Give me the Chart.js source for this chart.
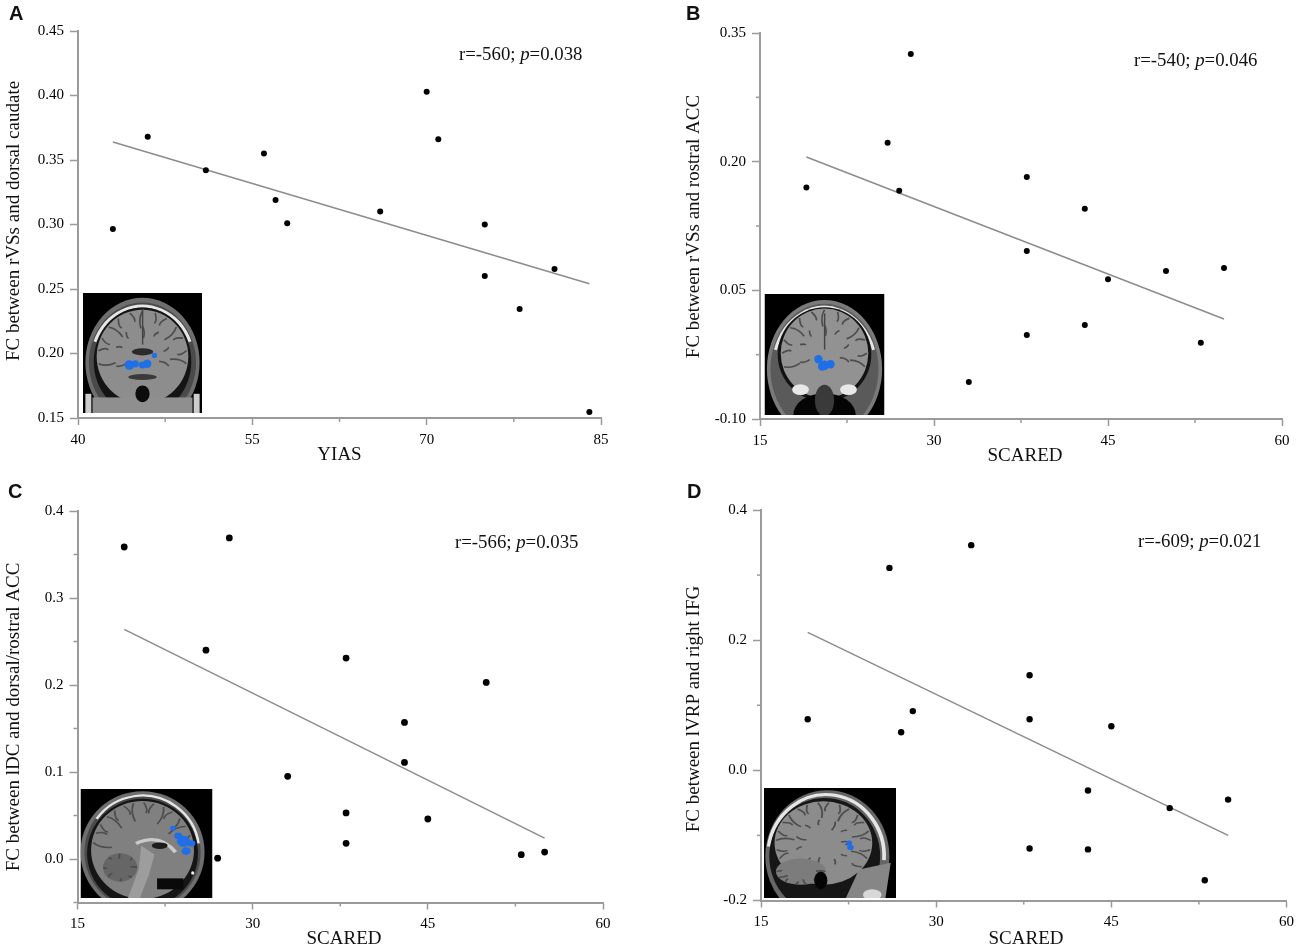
<!DOCTYPE html>
<html>
<head>
<meta charset="utf-8">
<title>FC correlations</title>
<script src="https://cdn.jsdelivr.net/npm/chart.js@4"></script>
<style>
html, body { margin: 0; padding: 0; background: #fff; overflow: hidden; }
#page { position: relative; width: 1300px; height: 950px; }
.panel { position: absolute; }
.letter { position: absolute; font: bold 20px "Liberation Sans", sans-serif; color: #111; line-height: 20px; }
.stat { position: absolute; font: 18.8px "Liberation Serif", serif; color: #111; line-height: 22px; white-space: nowrap; }
</style>
</head>
<body>
<div id="page"></div>
<script>
// panel A
const aX = [43, 46, 51, 56, 57, 58, 66, 70, 71, 75, 75, 78, 81, 84];
const aY = [0.2965, 0.368, 0.342, 0.355, 0.319, 0.301, 0.310, 0.403, 0.366, 0.300, 0.260, 0.2345, 0.2655, 0.1547];
const aFitX = [43, 84];
const aFitY = [0.364, 0.254];
const aXTicks = [40, 55, 70, 85];
const aXMinor = [47.5, 62.5, 77.5];
const aYTicks = [0.15, 0.20, 0.25, 0.30, 0.35, 0.40, 0.45];
const aYMinor = [];

// panel B
const bX = [19, 26, 27, 28, 33, 38, 38, 38, 43, 43, 45, 50, 53, 55];
const bY = [0.170, 0.222, 0.166, 0.3255, -0.057, 0.182, 0.096, -0.002, 0.145, 0.0096, 0.063, 0.0725, -0.011, 0.076];
const bFitX = [19, 55];
const bFitY = [0.2055, 0.0166];
const bXTicks = [15, 30, 45, 60];
const bXMinor = [22.5, 37.5, 52.5];
const bYTicks = [-0.10, 0.05, 0.20, 0.35];
const bYMinor = [-0.025, 0.125, 0.275];

// panel C
const cX = [19, 26, 27, 28, 33, 38, 38, 38, 43, 43, 45, 50, 53, 55];
const cY = [0.3586, 0.240, 0.001, 0.369, 0.095, 0.231, 0.053, 0.018, 0.157, 0.111, 0.046, 0.203, 0.005, 0.008];
const cFitX = [19, 55];
const cFitY = [0.264, 0.024];
const cXTicks = [15, 30, 45, 60];
const cXMinor = [22.5, 37.5, 52.5];
const cYTicks = [0.0, 0.1, 0.2, 0.3, 0.4];
const cYMinor = [-0.05, 0.05, 0.15, 0.25, 0.35];

// panel D
const dX = [19, 26, 27, 28, 33, 38, 38, 38, 43, 43, 45, 50, 53, 55];
const dY = [0.0785, 0.311, 0.0585, 0.091, 0.346, 0.146, 0.0785, -0.12, -0.031, -0.1215, 0.0677, -0.058, -0.169, -0.045];
const dFitX = [19, 55];
const dFitY = [0.212, -0.1];
const dXTicks = [15, 30, 45, 60];
const dXMinor = [22.5, 37.5, 52.5];
const dYTicks = [-0.2, 0.0, 0.2, 0.4];
const dYMinor = [-0.1, 0.1, 0.3];

const AXIS_GREY = '#9a9a9a';
const SERIF = '"Liberation Serif", serif';

const panels = [
  { letter: 'A', letterX: 9, letterY: 3, stat: 'r=-560; ', pval: '=0.038', statX: 459, statY: 43,
    x: aX, y: aY, fitX: aFitX, fitY: aFitY, xTicks: aXTicks, xMinor: aXMinor, yTicks: aYTicks, yMinor: aYMinor,
    xMin: 40, xMax: 85, yMin: 0.15, yMax: 0.45, dec: 2, xTitle: 'YIAS', yTitle: 'FC between rVSs and dorsal caudate',
    left: 0, top: 0, w: 640, h: 470, axisX: 78, rightX: 601, topY: 31, axisY: 418, dot: 3,
    xTitleX: 339.5, xTitleY: 455, yTitleX: 14.5, yTitleY: 221,
    inset: { x: 83, y: 293, w: 119, h: 120, kind: 'coronal', blue: [[.39,.6,.04],[.44,.59,.03],[.5,.6,.03],[.54,.59,.035],[.6,.52,.022]] } },
  { letter: 'B', letterX: 686, letterY: 3, stat: 'r=-540; ', pval: '=0.046', statX: 1134, statY: 49,
    x: bX, y: bY, fitX: bFitX, fitY: bFitY, xTicks: bXTicks, xMinor: bXMinor, yTicks: bYTicks, yMinor: bYMinor,
    xMin: 15, xMax: 60, yMin: -0.10, yMax: 0.35, dec: 2, xTitle: 'SCARED', yTitle: 'FC between rVSs and rostral ACC',
    left: 680, top: 0, w: 620, h: 470, axisX: 760, rightX: 1282, topY: 33, axisY: 419, dot: 3,
    xTitleX: 1025, xTitleY: 456, yTitleX: 694.5, yTitleY: 226.5,
    inset: { x: 764.5, y: 294, w: 120, h: 121, kind: 'coronal2', blue: [[.45,.54,.035],[.5,.59,.04],[.55,.58,.035],[.48,.6,.035]] } },
  { letter: 'C', letterX: 8, letterY: 481, stat: 'r=-566; ', pval: '=0.035', statX: 455, statY: 531,
    x: cX, y: cY, fitX: cFitX, fitY: cFitY, xTicks: cXTicks, xMinor: cXMinor, yTicks: cYTicks, yMinor: cYMinor,
    xMin: 15, xMax: 60, yMin: -0.05, yMax: 0.4, dec: 1, xTitle: 'SCARED', yTitle: 'FC between lDC and dorsal/rostral ACC',
    left: 0, top: 480, w: 640, h: 470, axisX: 77.5, rightX: 603, topY: 511, axisY: 902.5, dot: 3.4,
    xTitleX: 344, xTitleY: 939, yTitleX: 14.5, yTitleY: 717,
    inset: { x: 80.5, y: 789, w: 132, h: 109, kind: 'medial', blue: [[.7,.36,.022],[.74,.43,.03],[.78,.48,.05],[.84,.5,.03],[.8,.57,.035]] } },
  { letter: 'D', letterX: 687, letterY: 481, stat: 'r=-609; ', pval: '=0.021', statX: 1138, statY: 530,
    x: dX, y: dY, fitX: dFitX, fitY: dFitY, xTicks: dXTicks, xMinor: dXMinor, yTicks: dYTicks, yMinor: dYMinor,
    xMin: 15, xMax: 60, yMin: -0.2, yMax: 0.4, dec: 1, xTitle: 'SCARED', yTitle: 'FC between lVRP and right IFG',
    left: 680, top: 480, w: 620, h: 470, axisX: 761, rightX: 1287, topY: 510, axisY: 900.5, dot: 3.2,
    xTitleX: 1026, xTitleY: 939, yTitleX: 694.5, yTitleY: 709,
    inset: { x: 764, y: 788, w: 132, h: 110, kind: 'lateral', blue: [[.645,.5,.022],[.655,.54,.025]] } }
];

function oval(c, x, y, rx, ry, fill) {
  c.fillStyle = fill;
  c.beginPath();
  c.ellipse(x, y, rx, ry, 0, 0, Math.PI * 2);
  c.fill();
}

function brightArc(c, x, y, rx, ry, from, to, width) {
  c.strokeStyle = '#e6e6e6';
  c.lineWidth = width;
  c.beginPath();
  c.ellipse(x, y, rx, ry, 0, from, to);
  c.stroke();
}

// folds of the cortex, only a texture for the little brain pictures
function folds(c, cx, cy, rx, ry, from, to, count) {
  c.strokeStyle = '#4d4d4d';
  c.lineWidth = 0.014;
  for (let i = 0; i < count; i++) {
    const a = from + (to - from) * i / (count - 1);
    const bend = i % 2 ? 0.3 : -0.3;
    const len = i % 3 === 0 ? 0.6 : 0.76;
    c.beginPath();
    c.moveTo(cx + Math.cos(a) * rx * 0.97, cy + Math.sin(a) * ry * 0.97);
    c.quadraticCurveTo(cx + Math.cos(a + bend * 0.4) * rx * 0.82, cy + Math.sin(a + bend * 0.4) * ry * 0.82,
      cx + Math.cos(a + bend * 0.2) * rx * len, cy + Math.sin(a + bend * 0.2) * ry * len);
    c.stroke();
  }
}

function drawBrain(c, box) {
  c.save();
  c.beginPath();
  c.rect(box.x, box.y, box.w, box.h);
  c.clip();
  c.translate(box.x, box.y);
  c.scale(box.w, box.h);
  c.fillStyle = '#000';
  c.fillRect(0, 0, 1, 1);
  if (box.kind === 'coronal') {
    oval(c, .5, .58, .48, .54, '#6e6e6e');
    oval(c, .5, .58, .45, .5, '#4a4a4a');
    brightArc(c, .5, .58, .43, .47, Math.PI * 1.12, Math.PI * 1.88, .025);
    oval(c, .5, .57, .41, .45, '#141414');
    oval(c, .5, .53, .385, .39, '#8d8d8d');
    folds(c, .5, .53, .385, .39, Math.PI * 0.95, Math.PI * 2.05, 13);
    folds(c, .5, .53, .24, .26, Math.PI * 0.9, Math.PI * 2.1, 7);
    c.fillStyle = '#8f8f8f';
    c.fillRect(.08, .87, .84, .13);
    oval(c, .5, .84, .06, .07, '#0c0c0c');
    oval(c, .5, .49, .09, .03, '#2a2a2a');
    oval(c, .5, .7, .12, .025, '#3a3a3a');
    c.fillStyle = '#444';
    c.fillRect(.495, .13, .012, .3);
    c.fillStyle = '#ccc';
    c.fillRect(.02, .84, .05, .16);
    c.fillRect(.93, .84, .05, .16);
  } else if (box.kind === 'coronal2') {
    oval(c, .5, .62, .48, .57, '#7a7a7a');
    oval(c, .5, .62, .45, .54, '#5a5a5a');
    brightArc(c, .5, .62, .43, .51, Math.PI * 1.1, Math.PI * 1.9, .025);
    oval(c, .5, .5, .39, .39, '#121212');
    oval(c, .5, .49, .365, .37, '#929292');
    folds(c, .5, .49, .365, .37, Math.PI * 0.9, Math.PI * 2.1, 13);
    folds(c, .5, .49, .22, .24, Math.PI * 0.9, Math.PI * 2.1, 7);
    c.fillStyle = '#444';
    c.fillRect(.495, .16, .012, .3);
    oval(c, .3, .79, .07, .045, '#e8e8e8');
    oval(c, .7, .79, .07, .045, '#e8e8e8');
    oval(c, .5, 1, .26, .18, '#050505');
    oval(c, .5, .88, .08, .13, '#3a3a3a');
  } else if (box.kind === 'medial') {
    oval(c, .47, .58, .47, .56, '#6e6e6e');
    oval(c, .47, .58, .44, .53, '#4a4a4a');
    brightArc(c, .47, .58, .43, .52, Math.PI * 1.2, Math.PI * 1.95, .02);
    oval(c, .47, .59, .42, .5, '#151515');
    oval(c, .47, .56, .39, .45, '#808080');
    folds(c, .47, .56, .39, .45, Math.PI * 1.05, Math.PI * 1.9, 14);
    c.strokeStyle = '#c9c9c9';
    c.lineWidth = 0.03;
    c.beginPath();
    c.moveTo(.42, .5);
    c.quadraticCurveTo(.6, .4, .72, .58);
    c.stroke();
    oval(c, .6, .52, .06, .03, '#1c1c1c');
    oval(c, .3, .72, .13, .13, '#666');
    folds(c, .3, .72, .13, .13, 0, Math.PI * 2, 9);
    c.fillStyle = '#9d9d9d';
    c.beginPath();
    c.moveTo(.46, .52);
    c.lineTo(.56, .6);
    c.lineTo(.52, .78);
    c.lineTo(.45, 1);
    c.lineTo(.36, 1);
    c.lineTo(.44, .74);
    c.closePath();
    c.fill();
    c.fillStyle = '#0a0a0a';
    c.fillRect(.58, .82, .2, .1);
    oval(c, .85, .77, .012, .016, '#eee');
  } else {
    oval(c, .48, .62, .47, .6, '#666');
    brightArc(c, .47, .62, .44, .56, Math.PI * 1.05, Math.PI * 2.02, .028);
    oval(c, .46, .62, .42, .53, '#161616');
    oval(c, .45, .5, .37, .38, '#8c8c8c');
    folds(c, .45, .5, .37, .38, Math.PI * 0.8, Math.PI * 2.2, 20);
    folds(c, .45, .5, .22, .22, 0, Math.PI * 2, 12);
    oval(c, .28, .76, .19, .12, '#7c7c7c');
    folds(c, .28, .76, .19, .12, 0, Math.PI, 8);
    oval(c, .43, .84, .05, .08, '#050505');
    c.fillStyle = '#868686';
    c.beginPath();
    c.moveTo(.72, .74);
    c.lineTo(.96, .68);
    c.lineTo(.92, 1);
    c.lineTo(.62, 1);
    c.closePath();
    c.fill();
    oval(c, .82, .97, .07, .05, '#d8d8d8');
  }
  for (const b of box.blue) {
    oval(c, b[0], b[1], b[2], b[2], '#1f6fe8');
  }
  c.restore();
}

function axisTitle(c, text, x, y, angle) {
  c.save();
  c.translate(x, y);
  c.rotate(angle);
  c.font = '19px ' + SERIF;
  c.fillStyle = '#111';
  c.textAlign = 'center';
  c.textBaseline = 'middle';
  c.fillText(text, 0, 0);
  c.restore();
}

// small unlabelled ticks, axis titles and the picture in the lower left corner
const extras = {
  id: 'extras',
  beforeDatasetsDraw(chart, args, opts) {
    const c = chart.ctx;
    const xs = chart.scales.x;
    const ys = chart.scales.y;
    const p = opts.panel;
    c.save();
    c.strokeStyle = AXIS_GREY;
    c.lineWidth = 1.5;
    p.xMinor.forEach(v => {
      const px = xs.getPixelForValue(v);
      c.beginPath();
      c.moveTo(px, ys.bottom);
      c.lineTo(px, ys.bottom + 4);
      c.stroke();
    });
    p.yMinor.forEach(v => {
      const py = ys.getPixelForValue(v);
      c.beginPath();
      c.moveTo(xs.left, py);
      c.lineTo(xs.left - 4, py);
      c.stroke();
    });
    c.restore();

    axisTitle(c, p.xTitle, p.xTitleX - p.left, p.xTitleY - p.top, 0);
    axisTitle(c, p.yTitle, p.yTitleX - p.left, p.yTitleY - p.top, -Math.PI / 2);

    // the picture box is given in page pixels, the canvas starts at the panel corner
    drawBrain(c, Object.assign({}, p.inset, { x: p.inset.x - p.left, y: p.inset.y - p.top }));
  }
};

const page = document.getElementById('page');

panels.forEach(p => {
  const wrap = document.createElement('div');
  wrap.className = 'panel';
  wrap.style.cssText = `left:${p.left}px;top:${p.top}px;width:${p.w}px;height:${p.h}px`;
  const canvas = document.createElement('canvas');
  wrap.appendChild(canvas);
  page.appendChild(wrap);

  const letter = document.createElement('div');
  letter.className = 'letter';
  letter.style.cssText = `left:${p.letterX}px;top:${p.letterY}px`;
  letter.textContent = p.letter;
  page.appendChild(letter);

  const stat = document.createElement('div');
  stat.className = 'stat';
  stat.style.cssText = `left:${p.statX}px;top:${p.statY}px`;
  stat.innerHTML = `${p.stat}<i>p</i>${p.pval}`;
  page.appendChild(stat);

  new Chart(canvas, {
    type: 'scatter',
    data: {
      datasets: [
        {
          data: p.fitX.map((v, i) => ({ x: v, y: p.fitY[i] })),
          showLine: true,
          borderColor: '#8c8c8c',
          borderWidth: 1.5,
          pointRadius: 0,
          order: 2
        },
        {
          data: p.x.map((v, i) => ({ x: v, y: p.y[i] })),
          backgroundColor: '#000',
          pointBorderWidth: 0,
          pointRadius: p.dot,
          order: 1
        }
      ]
    },
    options: {
      responsive: true,
      maintainAspectRatio: false,
      animation: false,
      layout: { padding: { top: p.topY - p.top, right: p.left + p.w - p.rightX, left: 0, bottom: 0 } },
      plugins: {
        legend: { display: false },
        tooltip: { enabled: false },
        extras: { panel: p }
      },
      scales: {
        x: {
          type: 'linear',
          min: p.xMin,
          max: p.xMax,
          afterBuildTicks: s => { s.ticks = p.xTicks.map(v => ({ value: v })); },
          afterFit: s => { s.height = p.top + p.h - p.axisY; },
          ticks: {
            autoSkip: false,
            maxRotation: 0,
            padding: 6,
            color: '#000',
            font: { family: SERIF, size: 15 },
            callback: v => String(v)
          },
          grid: { drawOnChartArea: false, tickLength: 7, tickColor: AXIS_GREY, tickWidth: 1.5 },
          border: { color: AXIS_GREY, width: 2 }
        },
        y: {
          type: 'linear',
          min: p.yMin,
          max: p.yMax,
          afterBuildTicks: s => { s.ticks = p.yTicks.map(v => ({ value: v })); },
          afterFit: s => { s.width = p.axisX - p.left; },
          ticks: {
            autoSkip: false,
            padding: 6,
            color: '#000',
            font: { family: SERIF, size: 15 },
            callback: v => v.toFixed(p.dec)
          },
          grid: { drawOnChartArea: false, tickLength: 8, tickColor: AXIS_GREY, tickWidth: 1.5 },
          border: { color: AXIS_GREY, width: 2 }
        }
      }
    },
    plugins: [extras]
  });
});
</script>
</body>
</html>
